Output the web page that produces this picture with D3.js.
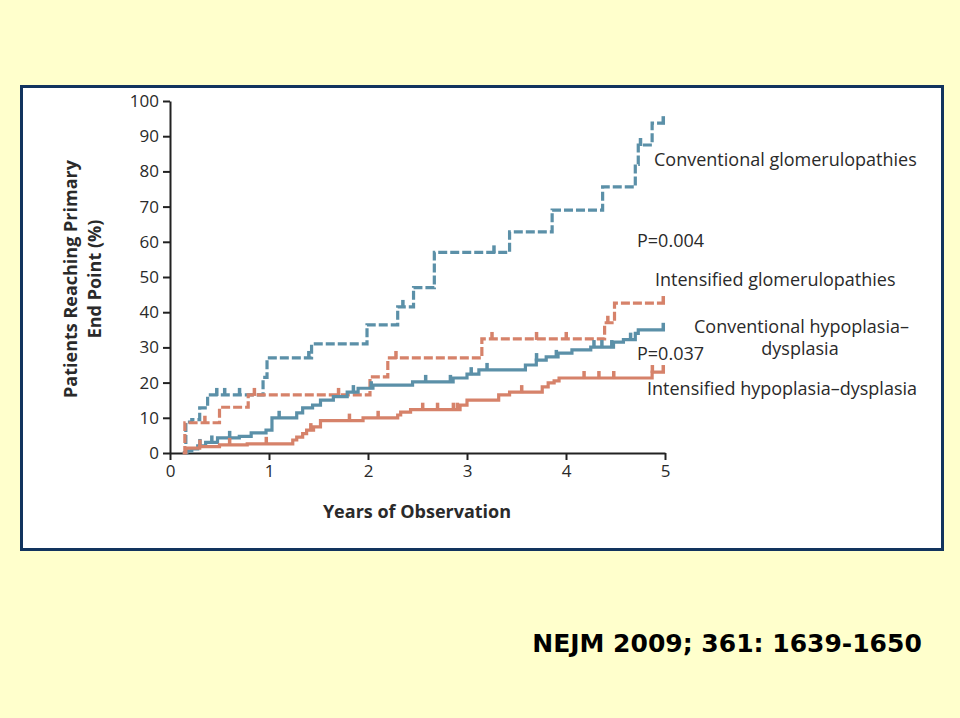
<!DOCTYPE html>
<html><head><meta charset="utf-8">
<script src="https://cdn.jsdelivr.net/npm/d3@7"></script>
<style>
html,body{margin:0;padding:0;background:#ffffcc;}
svg{display:block;}
</style></head>
<body>
<script>
// ---- data ----
const yTicks = [0,10,20,30,40,50,60,70,80,90,100];
const xTicks = [0,1,2,3,4,5];
const seriesNames = ["Conventional glomerulopathies","Intensified glomerulopathies","Conventional hypoplasia\u2013dysplasia","Intensified hypoplasia\u2013dysplasia"];
const convGlom = [[0.13,0],[0.16,8.8],[0.22,9.5],[0.30,12.8],[0.38,16.5],[0.94,21.5],[0.98,27],[1.43,31],[1.99,36.4],[2.30,41.5],[2.46,47],[2.67,57],[3.43,62.8],[3.86,69],[4.37,75.6],[4.70,82],[4.73,87.5],[4.87,93.7],[5.0,93.7]];
const intGlom = [[0.13,0],[0.15,8.6],[0.50,13],[0.79,16.5],[2.02,21.6],[2.20,27],[3.15,32.4],[4.39,37],[4.49,42.6],[5.0,42.6]];
const convHypo = [[0.13,0],[0.17,0.6],[0.22,1.2],[0.28,2],[0.36,3],[0.48,4.3],[0.70,4.7],[0.82,5.7],[0.97,6.5],[1.03,10],[1.28,11.4],[1.34,12.8],[1.44,13.6],[1.52,15],[1.65,16],[1.79,17.3],[1.90,18.4],[2.05,19.3],[2.45,20.2],[2.86,21.3],[3.0,22.4],[3.12,23.6],[3.59,25],[3.70,26.4],[3.80,27.3],[3.92,28.4],[4.06,29.3],[4.25,30.1],[4.48,31.5],[4.58,32.2],[4.70,34],[4.73,35],[5.0,35]];
const intHypo = [[0.13,0],[0.16,1.4],[0.30,1.8],[0.50,2.3],[0.78,2.6],[1.24,3.7],[1.28,4.5],[1.34,5.5],[1.38,6.5],[1.45,7.4],[1.52,9.2],[1.95,10],[2.30,10.8],[2.33,11.6],[2.43,12.3],[2.93,13.6],[3.0,15],[3.32,16.5],[3.43,17.3],[3.76,18.8],[3.82,19.9],[3.88,20.5],[3.93,21.3],[4.87,23],[5.0,23]];
const convGlomCens = [0.47,0.55,0.70,1.40,2.35,3.27,4.75,4.98];
const intGlomCens = [0.35,0.85,1.70,2.28,3.25,3.70,4.00,4.42,4.98];
const convHypoCens = [0.30,0.42,0.60,1.10,1.85,2.03,2.58,2.83,3.04,3.20,3.70,3.90,4.28,4.36,4.46,4.65,4.98];
const intHypoCens = [0.30,0.60,0.97,1.42,1.81,2.10,2.55,2.70,2.86,2.90,3.55,4.18,4.33,4.48,4.87,4.98];
const pLabels = ["P=0.004","P=0.037"];
const yTitle = ["Patients Reaching Primary","End Point (%)"];
const xTitle = "Years of Observation";
const citation = "NEJM 2009; 361: 1639-1650";

// ---- drawing ----
const W=960,H=718;
const svg=d3.select("body").append("svg").attr("width",W).attr("height",H);
svg.append("rect").attr("width",W).attr("height",H).attr("fill","#ffffcc");
svg.append("rect").attr("x",21.5).attr("y",86.5).attr("width",921).attr("height",463)
  .attr("fill","#ffffff").attr("stroke","#12345e").attr("stroke-width",3);

const x=d3.scaleLinear().domain([0,5]).range([170,665]);
const y=d3.scaleLinear().domain([0,100]).range([453,101]);
const font="'Open Sans', 'Lato', sans-serif";
const blue="#5b90a8", orange="#d6826a";
const txtCol="#2a2a2a";

const gy=svg.append("g").attr("transform","translate(170,0)")
  .call(d3.axisLeft(y).tickValues(yTicks).tickFormat(d3.format("d")).tickSize(7).tickPadding(4).tickSizeOuter(0));
const gx=svg.append("g").attr("transform","translate(0,453)")
  .call(d3.axisBottom(x).tickValues(xTicks).tickFormat(d3.format("d")).tickSize(7).tickPadding(5).tickSizeOuter(0));
[gx,gy].forEach(g=>{
  g.selectAll("path,line").attr("stroke","#222").attr("stroke-width",2);
  g.selectAll("text").attr("font-family",font).attr("font-size",17).attr("fill",txtCol);
});

const line=d3.line().x(d=>x(d[0])).y(d=>y(d[1])).curve(d3.curveStepAfter);
const stepVal=(data,t)=>{let v=0;for(const d of data){if(d[0]<=t)v=d[1];}return v;};
const series=[
  {data:convGlom,cens:convGlomCens,color:blue,dash:"9,3"},
  {data:intGlom,cens:intGlomCens,color:orange,dash:"9,3"},
  {data:convHypo,cens:convHypoCens,color:blue,dash:null},
  {data:intHypo,cens:intHypoCens,color:orange,dash:null}
];
series.forEach(s=>{
  svg.append("path").datum(s.data).attr("d",line).attr("fill","none")
    .attr("stroke",s.color).attr("stroke-width",3.2)
    .attr("stroke-dasharray",s.dash);
  svg.selectAll(null).data(s.cens).enter().append("rect")
    .attr("x",d=>x(d)-1.5).attr("y",d=>y(stepVal(s.data,d))-7)
    .attr("width",3.5).attr("height",8).attr("fill",s.color);
});

// y title
const yt=svg.append("text").attr("transform","translate(77,279) rotate(-90)")
  .attr("text-anchor","middle").attr("font-family",font).attr("font-weight","bold")
  .attr("font-size",18).attr("fill",txtCol);
yt.append("tspan").attr("x",0).attr("dy",0).text(yTitle[0]);
yt.append("tspan").attr("x",0).attr("dy",24).text(yTitle[1]);
svg.append("text").attr("x",417).attr("y",518).attr("text-anchor","middle")
  .attr("font-family",font).attr("font-weight","bold").attr("font-size",18).attr("fill",txtCol).text(xTitle);

// labels
const lab=(tx,ty,txt,anchor)=>svg.append("text").attr("x",tx).attr("y",ty)
  .attr("text-anchor",anchor||"start").attr("font-family",font).attr("font-size",18).attr("fill",txtCol).text(txt);
lab(654,166,seriesNames[0]);
lab(637,247,pLabels[0]);
lab(655,286,seriesNames[1]);
lab(694,333,"Conventional hypoplasia\u2013");
lab(800,355,"dysplasia","middle");
lab(637,360,pLabels[1]);
lab(647,395,seriesNames[3]);

svg.append("text").attr("x",727).attr("y",652).attr("text-anchor","middle")
  .attr("font-family","'DejaVu Sans', sans-serif").attr("font-weight","bold")
  .attr("font-size",25).attr("fill","#000").text(citation);
</script>
</body></html>
